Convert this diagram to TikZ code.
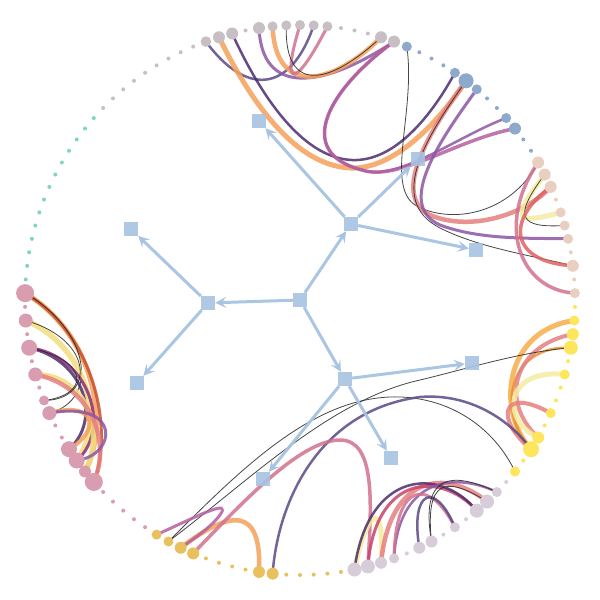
\documentclass[tikz,border=0pt]{standalone}
\usetikzlibrary{arrows.meta}
\definecolor{cg}{HTML}{C7BFC3}
\definecolor{ct}{HTML}{7ED6C2}
\definecolor{cb}{HTML}{8DAACC}
\definecolor{cpe}{HTML}{E9CFC0}
\definecolor{cy}{HTML}{FDE55C}
\definecolor{cl}{HTML}{D6CDD9}
\definecolor{cgo}{HTML}{E8C05E}
\definecolor{cpk}{HTML}{D89EB0}
\definecolor{treeblue}{HTML}{A7C3E2}
\definecolor{cslate}{HTML}{5B4A86}
\definecolor{cdpurp}{HTML}{4B2D6E}
\definecolor{cpurp}{HTML}{8D55A3}
\definecolor{cmag}{HTML}{B4609F}
\definecolor{cmagb}{HTML}{8C2C7C}
\definecolor{cpink}{HTML}{D2708E}
\definecolor{ccrim}{HTML}{C9426B}
\definecolor{csalm}{HTML}{E6807F}
\definecolor{cred}{HTML}{E06262}
\definecolor{credb}{HTML}{C8502E}
\definecolor{corange}{HTML}{F5A05A}
\definecolor{cdorange}{HTML}{E8902E}
\definecolor{cgorange}{HTML}{F6AD48}
\definecolor{cyel}{HTML}{F5ECA0}
\definecolor{cyelb}{HTML}{F2DE7E}
\begin{document}
\begin{tikzpicture}[x=1pt,y=-1pt,
  lk/.style={line cap=round,draw opacity=0.85},
  thin link/.style={lk,draw=black!85,line width=0.8pt},
  sq/.style={rectangle,minimum size=14pt,inner sep=0pt,fill=treeblue,fill opacity=0.9,draw=none},
  tr/.style={draw=treeblue,line width=3pt,draw opacity=0.95,-{Stealth[length=11pt,width=11pt,inset=4.5pt]}}]
\useasboundingbox (0,0) rectangle (600,600);
\fill[white] (0,0) rectangle (600,600);
\foreach \k in {0,...,125}{\coordinate (d\k) at ({300+275*cos(90-\k*2.857142857)},{300-275*sin(90-\k*2.857142857)});}

% ---- gray group links
\draw[lk,cslate,line width=2.5pt] (d119) .. controls (245,95) and (290,95) .. (d1);
\draw[lk,cpurp,line width=3pt] (d123) .. controls (262,95) and (320,90) .. (d7);
\draw[lk,corange,line width=4.5pt] (d124) .. controls (275,95) and (330,88) .. (d6);
\draw[lk,cpink,line width=3pt] (d0) .. controls (280,90) and (295,90) .. (d2);
\draw[thin link] (d125) .. controls (284,95) and (330,85) .. (d6);
\draw[lk,corange,line width=5pt] (d120) .. controls (245,90) and (290,165) .. (350,168) .. controls (395,170) and (440,120) .. (d13);
\draw[lk,cdpurp,line width=2.5pt] (d121) .. controls (258,90) and (300,158) .. (352,160) .. controls (395,162) and (432,115) .. (d12);
\draw[lk,cpurp,line width=2.5pt] (d17) .. controls (458,136) and (398,182) .. (362,170) .. controls (292,152) and (330,88) .. (d7);
\draw[lk,cmag,line width=3.5pt] (d7) .. controls (330,88) and (292,152) .. (362,170) .. controls (398,182) and (455,140) .. (d18);
% ---- blue / peach
\draw[thin link] (d8) .. controls (416,110) and (385,185) .. (415,205) .. controls (450,225) and (510,215) .. (d21);
\draw[lk,csalm,line width=4.5pt] (d13) .. controls (430,130) and (390,195) .. (430,215) .. controls (470,232) and (525,215) .. (d23);
\draw[thin link] (d13) .. controls (428,135) and (385,200) .. (440,228) .. controls (480,248) and (530,255) .. (d29);
\draw[lk,cpurp,line width=3pt] (d14) .. controls (440,140) and (395,205) .. (440,225) .. controls (480,240) and (530,238) .. (d27);
\draw[lk,cpink,line width=3.5pt] (d21) .. controls (495,225) and (520,290) .. (d31);
\draw[lk,cyel,line width=5pt] (d22) .. controls (510,220) and (515,225) .. (d25);
\draw[thin link] (d22) .. controls (512,218) and (520,228) .. (d26);
\draw[lk,cred,line width=3.5pt] (d23) .. controls (505,220) and (510,262) .. (d29);
% ---- yellow group
\draw[lk,cgorange,line width=5pt] (d33) .. controls (505,330) and (495,410) .. (d43);
\draw[lk,cdorange,line width=2.5pt] (d35) .. controls (505,345) and (498,415) .. (d43);
\draw[lk,csalm,line width=4pt] (d34) .. controls (515,345) and (498,400) .. (d42);
\draw[lk,cyel,line width=5pt] (d37) .. controls (505,368) and (500,420) .. (d42);
\draw[lk,csalm,line width=4pt] (d40) .. controls (500,385) and (495,420) .. (d43);
\draw[thin link] (d35) .. controls (520,352) and (470,368) .. (420,380) .. controls (330,400) and (250,480) .. (d73);
\draw[thin link] (d45) .. controls (490,420) and (440,395) .. (390,397) .. controls (310,400) and (240,470) .. (d73);
\draw[lk,cslate,line width=2.5pt] (d65) .. controls (278,500) and (320,410) .. (420,397) .. controls (470,393) and (510,420) .. (d43);
% ---- gold group
\draw[lk,corange,line width=4.5pt] (d72) .. controls (230,510) and (262,505) .. (d66);
\draw[lk,cmag,line width=3pt] (d74) .. controls (200,515) and (232,498) .. (220,515) .. controls (210,528) and (195,538) .. (d72);
\draw[lk,cpink,line width=3.5pt] (d71) .. controls (240,505) and (300,440) .. (340,440) .. controls (375,440) and (372,500) .. (d58);
% ---- lavender group
\draw[lk,cyel,line width=5pt] (d59) .. controls (368,505) and (385,500) .. (d57);
\draw[lk,csalm,line width=4.5pt] (d48) .. controls (445,468) and (390,475) .. (d57);
\draw[lk,ccrim,line width=3pt] (d49) .. controls (440,470) and (375,475) .. (d58);
\draw[lk,cdpurp,line width=2.5pt] (d49) .. controls (440,466) and (368,470) .. (d59);
\draw[lk,cpurp,line width=2.5pt] (d47) .. controls (450,470) and (398,482) .. (d56);
\draw[lk,cpink,line width=3pt] (d51) .. controls (430,478) and (395,480) .. (d56);
\draw[lk,cslate,line width=2.5pt] (d51) .. controls (435,480) and (410,490) .. (d54);
\draw[thin link] (d47) .. controls (450,470) and (420,475) .. (d53);
\draw[thin link] (d48) .. controls (445,475) and (425,480) .. (d53);
% ---- pink group
\draw[lk,corange,line width=5pt] (d95) .. controls (95,335) and (110,425) .. (d81);
\draw[lk,credb,line width=3pt] (d95) .. controls (95,335) and (114,430) .. (d80);
\draw[thin link] (d95) .. controls (90,330) and (100,400) .. (d86);
\draw[lk,cyelb,line width=5.5pt] (d93) .. controls (85,345) and (107,420) .. (d82);
\draw[lk,cdpurp,line width=3pt] (d91) .. controls (85,360) and (102,420) .. (d83);
\draw[lk,cmagb,line width=3pt] (d91) .. controls (90,355) and (112,430) .. (d82);
\draw[lk,cyelb,line width=5.5pt] (d89) .. controls (85,375) and (107,430) .. (d81);
\draw[lk,csalm,line width=4.5pt] (d89) .. controls (90,385) and (112,440) .. (d80);
\draw[thin link] (d87) .. controls (90,395) and (90,360) .. (d91);
\draw[thin link] (d87) .. controls (95,400) and (95,340) .. (d93);
\draw[lk,corange,line width=4pt] (d86) .. controls (95,400) and (102,430) .. (d83);
\draw[lk,cpurp,line width=3pt] (d86) .. controls (122,400) and (117,455) .. (d82);

% ---- tree
\node[sq] (R) at (300,300) {};
\node[sq] (A) at (208,303) {};
\node[sq] (A1) at (131,229) {};
\node[sq] (A2) at (137,383) {};
\node[sq] (B) at (351,224) {};
\node[sq] (B1) at (259,121) {};
\node[sq] (B2) at (418,159) {};
\node[sq] (B3) at (476,250) {};
\node[sq] (C) at (345,379) {};
\node[sq] (C1) at (472,363) {};
\node[sq] (C2) at (391,458) {};
\node[sq] (C3) at (263,479) {};
\draw[tr] (R) -- (A);
\draw[tr] (R) -- (B);
\draw[tr] (R) -- (C);
\draw[tr] (A) -- (A1);
\draw[tr] (A) -- (A2);
\draw[tr] (B) -- (B1);
\draw[tr] (B) -- (B2);
\draw[tr] (B) -- (B3);
\draw[tr] (C) -- (C1);
\draw[tr] (C) -- (C2);
\draw[tr] (C) -- (C3);

% ---- dots
\foreach \k in {110,...,118,122,3,4,5} \fill[cg] (d\k) circle (2);
\foreach \k/\r in {119/5.3,120/6,121/6,123/6,124/5,125/5,0/5,1/5,2/5,6/6,7/6} \fill[cg] (d\k) circle (\r);
\foreach \k in {9,10,11,15,16,19,20} \fill[cb] (d\k) circle (2);
\foreach \k/\r in {8/5,12/5,13/7.5,14/5,17/5,18/6} \fill[cb] (d\k) circle (\r);
\foreach \k in {24,28,30} \fill[cpe] (d\k) circle (2);
\foreach \k/\r in {21/6,22/6,23/6,25/5,26/5,27/5,29/6,31/5} \fill[cpe] (d\k) circle (\r);
\foreach \k in {32,36,38,39,41,44} \fill[cy] (d\k) circle (2);
\foreach \k/\r in {33/5,34/6,35/7,37/5,40/5,42/6,43/8,45/5} \fill[cy] (d\k) circle (\r);
\foreach \k in {46,50,52,55} \fill[cl] (d\k) circle (2);
\foreach \k/\r in {47/5,48/7,49/7,51/5,53/6,54/6,56/5,57/6,58/7,59/7} \fill[cl] (d\k) circle (\r);
\foreach \k in {60,...,64,67,68,69,70} \fill[cgo] (d\k) circle (2);
\foreach \k/\r in {65/6,66/6,71/6,72/6,73/5,74/5} \fill[cgo] (d\k) circle (\r);
\foreach \k in {75,...,79,84,85,88,90,92,94} \fill[cpk] (d\k) circle (2);
\foreach \k/\r in {80/9,81/6,82/8,83/8,86/7,87/5,89/7,91/8,93/7,95/9} \fill[cpk] (d\k) circle (\r);
\foreach \k in {96,...,109} \fill[ct] (d\k) circle (2);
\end{tikzpicture}
\end{document}
